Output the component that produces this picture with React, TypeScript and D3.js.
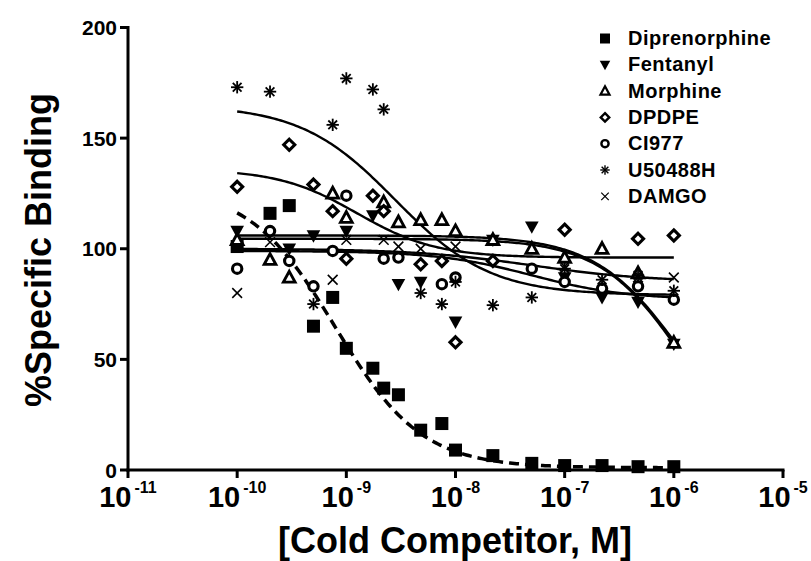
import React from "react";
import * as d3 from "d3";

// Molar concentrations of the cold competitor (shared x positions)
const concentrations = [
  1e-10, 2e-10, 3e-10, 5e-10, 7.5e-10, 1e-9, 1.75e-9, 2.2e-9, 3e-9, 4.8e-9,
  7.5e-9, 1e-8, 2.2e-8, 5e-8, 1e-7, 2.2e-7, 4.7e-7, 1e-6,
];

const seriesNames = ["Diprenorphine", "Fentanyl", "Morphine", "DPDPE", "CI977", "U50488H", "DAMGO"];

// % specific binding per competitor (null = no point at that concentration)
const diprenorphine = [101, 116, 119.5, 65, 78, 55, 46, 37, 34, 18, 21, 9, 6.5, 3, 2, 2, 1.5, 1.5];
const fentanyl = [108, null, 100, 106, null, 108, 115, null, 84, 85, null, 67, 104, 110, 87, 78, 76, 57];
const morphine = [104, 95, 87, null, 125, 114, null, 121, 112, 113, 113, 108, 104, 100, 96, 100, 89, 57.5];
const dpdpe = [128, null, 147, 129, 117, 95.5, 124, 117, null, 93, 94.5, 57.7, 94.5, null, 108.6, null, 104.5, 106];
const ci977 = [91, 108, 94.5, 83, 99, 124, null, 95.5, 96, null, 84, 87, null, 91, 85, 82, 83, 77];
const u50488h = [173, 171, null, 75, 156, 177, 172, 163, null, 80, 75, 85, 74.5, 78, 91, 86, 88, 81];
const damgo = [80, 103, null, null, 86, 104, null, 104, 101, 100, null, 101, null, null, 92, null, 87, 87];

// Four-parameter logistic fit parameters, one entry per competitor
const fitTop = [128, 106, 104.5, 136, 99, 165, 100];
const fitBottom = [1, 0, 0, 96, 77, 79, 85];
const fitLogIC50 = [-9.1, -5.92, -5.93, -8.9, -7.3, -8.55, -7.3];
const fitHill = [1.1, 1.1, 1.15, 1.2, 1, 1.0, 0.8];

const yTicks = [0, 50, 100, 150, 200];
const xTickExponents = [-11, -10, -9, -8, -7, -6, -5];

const W = 811;
const H = 561;

const x = d3.scaleLog().domain([1e-11, 1e-5]).range([128, 783]);
const y = d3.scaleLinear().domain([0, 200]).range([470, 27.5]);

const FONT = "'Liberation Sans', Arial, Helvetica, sans-serif";

type Shape = "square" | "triDown" | "triUp" | "diamond" | "circle" | "star" | "cross";
const shapes: Shape[] = ["square", "triDown", "triUp", "diamond", "circle", "star", "cross"];

function Marker({ shape, cx, cy, s }: { shape: Shape; cx: number; cy: number; s: number }) {
  const h = s / 2;
  switch (shape) {
    case "square":
      return <rect x={cx - h} y={cy - h} width={s} height={s} fill="#000" />;
    case "triDown":
      return (
        <path
          d={`M${cx - h * 1.05},${cy - h * 0.8}L${cx + h * 1.05},${cy - h * 0.8}L${cx},${cy + h * 1.1}Z`}
          fill="#000"
        />
      );
    case "triUp": {
      const r = h * 0.95;
      return (
        <path
          d={`M${cx},${cy - r}L${cx + r * 0.95},${cy + r * 0.75}L${cx - r * 0.95},${cy + r * 0.75}Z`}
          fill="#fff"
          stroke="#000"
          strokeWidth={s * 0.22}
          strokeLinejoin="miter"
        />
      );
    }
    case "diamond": {
      const r = h * 0.85;
      return (
        <path
          d={`M${cx},${cy - r}L${cx + r},${cy}L${cx},${cy + r}L${cx - r},${cy}Z`}
          fill="#fff"
          stroke="#000"
          strokeWidth={s * 0.24}
        />
      );
    }
    case "circle":
      return <circle cx={cx} cy={cy} r={h * 0.72} fill="#fff" stroke="#000" strokeWidth={s * 0.24} />;
    case "star": {
      const r = h * 0.95;
      const spokes = [0, 45, 90, 135].map((a) => {
        const rad = (a * Math.PI) / 180;
        return (
          <line
            key={a}
            x1={cx - r * Math.cos(rad)}
            y1={cy - r * Math.sin(rad)}
            x2={cx + r * Math.cos(rad)}
            y2={cy + r * Math.sin(rad)}
            stroke="#000"
            strokeWidth={s * 0.14}
          />
        );
      });
      return <g>{spokes}</g>;
    }
    case "cross": {
      const r = h * 0.75;
      return (
        <g stroke="#000" strokeWidth={s * 0.12}>
          <line x1={cx - r} y1={cy - r} x2={cx + r} y2={cy + r} />
          <line x1={cx - r} y1={cy + r} x2={cx + r} y2={cy - r} />
        </g>
      );
    }
  }
}

const allSeries = [diprenorphine, fentanyl, morphine, dpdpe, ci977, u50488h, damgo];

function fitPath(i: number) {
  const pts: [number, number][] = [];
  const lo = Math.log10(concentrations[0]);
  const hi = Math.log10(concentrations[concentrations.length - 1]);
  for (let k = 0; k <= 200; k++) {
    const lx = lo + ((hi - lo) * k) / 200;
    const v =
      fitBottom[i] + (fitTop[i] - fitBottom[i]) / (1 + Math.pow(10, (lx - fitLogIC50[i]) * fitHill[i]));
    pts.push([x(Math.pow(10, lx)), y(v)]);
  }
  return d3.line()(pts) as string;
}

export default function App() {
  return (
    <svg
      width={W}
      height={H}
      viewBox={`0 0 ${W} ${H}`}
      style={{ position: "absolute", left: 0, top: 0, background: "#fff" }}
      fontFamily={FONT}
      fontWeight="bold"
    >
      <rect width={W} height={H} fill="#fff" />

      {/* fitted curves */}
      {allSeries.map((_, i) => (
        <path
          key={`fit-${i}`}
          d={fitPath(i)}
          fill="none"
          stroke="#000"
          strokeWidth={i === 0 ? 3.5 : 2.4}
          strokeDasharray={i === 0 ? "10 6" : undefined}
        />
      ))}

      {/* data points */}
      {allSeries.map((vals, i) =>
        vals.map((v, j) =>
          v == null ? null : (
            <Marker key={`p-${i}-${j}`} shape={shapes[i]} cx={x(concentrations[j])} cy={y(v)} s={13} />
          )
        )
      )}

      {/* y axis */}
      <line x1={128} y1={y(200) - 1.5} x2={128} y2={471.5} stroke="#000" strokeWidth={3} />
      {yTicks.map((t) => (
        <g key={`yt-${t}`}>
          <line x1={120} x2={128} y1={y(t)} y2={y(t)} stroke="#000" strokeWidth={3} />
          <text x={117} y={y(t)} dy="0.36em" textAnchor="end" fontSize={21}>
            {t}
          </text>
        </g>
      ))}

      {/* x axis */}
      <line x1={126.5} y1={470} x2={784.5} y2={470} stroke="#000" strokeWidth={3} />
      {xTickExponents.map((e) => {
        const px = x(Math.pow(10, e));
        return (
          <g key={`xt-${e}`}>
            <line x1={px} x2={px} y1={470} y2={478} stroke="#000" strokeWidth={3} />
            <text x={px} y={507} textAnchor="middle">
              <tspan fontSize={29}>10</tspan>
              <tspan fontSize={16} dx={3} dy={-14}>
                {e}
              </tspan>
            </text>
          </g>
        );
      })}

      {/* axis titles */}
      <text x={455} y={553} textAnchor="middle" fontSize={36}>
        [Cold Competitor, M]
      </text>
      <text transform="translate(51,250) rotate(-90)" textAnchor="middle" fontSize={36}>
        %Specific Binding
      </text>

      {/* legend */}
      {seriesNames.map((name, i) => {
        const by = 45 + i * 26.3;
        return (
          <g key={`lg-${i}`}>
            <Marker shape={shapes[i]} cx={605} cy={by - 6.5} s={10} />
            <text x={628} y={by} fontSize={20} letterSpacing={0.5}>
              {name}
            </text>
          </g>
        );
      })}
    </svg>
  );
}
